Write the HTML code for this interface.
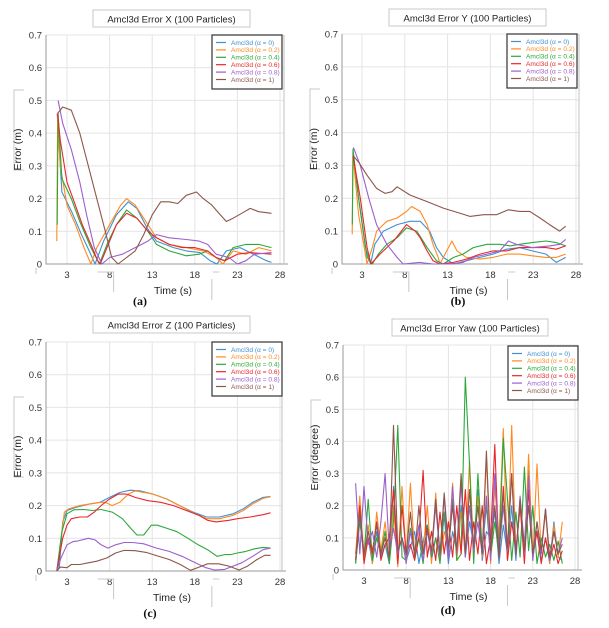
<!DOCTYPE html>
<html><head><meta charset="utf-8"><style>
html,body{margin:0;padding:0;background:#fff;width:609px;height:628px;overflow:hidden}
svg{display:block;font-family:"Liberation Sans",Arial,sans-serif}
</style></head><body>
<svg id="fig" width="609" height="628" viewBox="0 0 609 628" xmlns="http://www.w3.org/2000/svg"></svg>
<script>
const seriesLabels = ["Amcl3d (α = 0)","Amcl3d (α = 0.2)","Amcl3d (α = 0.4)","Amcl3d (α = 0.6)","Amcl3d (α = 0.8)","Amcl3d (α = 1)"];
const seriesColors = ["#3f8fd2","#ff8a1f","#2ca83a","#e8262a","#9b5fcf","#8c564b"];
const xTicks = [3,8,13,18,23,28];
const yTicks = [0,0.1,0.2,0.3,0.4,0.5,0.6,0.7];
const yTickLabels = ["0","0.1","0.2","0.3","0.4","0.5","0.6","0.7"];

// Panel (a) Error X: [time, value]
const aBlue = [[1.85,0.46],[2.4,0.22],[3.55,0.16],[4.7,0.09],[5.6,0.04],[6.3,0],[7.3,0.07],[8.8,0.15],[10.2,0.19],[11.2,0.17],[12.4,0.11],[13.5,0.07],[15.5,0.05],[17,0.04],[18.6,0.035],[19.8,0.01],[20.6,0],[21.7,0.04],[23.3,0.05],[24.9,0.03],[26.4,0.01],[27,0.005]];
const aOrange = [[1.8,0.07],[1.9,0.45],[2.2,0.3],[3,0.18],[4,0.12],[5,0.05],[5.8,0],[6.5,0.05],[8,0.12],[9.3,0.18],[10,0.2],[11,0.18],[12.5,0.12],[13.5,0.08],[15,0.06],[17,0.05],[19,0.04],[20.5,0.02],[21.3,0],[22.5,0.04],[24,0.03],[25.5,0.05],[27,0.04]];
const aGreen = [[1.85,0.12],[1.95,0.46],[2.4,0.26],[3.5,0.2],[4.5,0.13],[5.8,0.05],[6.8,0],[7.7,0.06],[8.8,0.12],[10,0.165],[11.2,0.14],[12.5,0.1],[13.5,0.06],[15,0.04],[17,0.025],[18.5,0.03],[19.5,0.04],[20.5,0.02],[21.5,0.01],[22.5,0.05],[24,0.06],[25.5,0.06],[27,0.05]];
const aRed = [[1.9,0.46],[2.2,0.38],[3,0.25],[3.7,0.2],[4.8,0.12],[5.8,0.06],[6.6,0.01],[6.9,0],[7.7,0.05],[8.8,0.12],[10,0.155],[11.2,0.14],[12.5,0.1],[13.5,0.08],[15,0.06],[16.5,0.05],[18,0.05],[19.5,0.04],[20.5,0.02],[21.5,0.01],[23,0.03],[24.5,0.035],[27,0.03]];
const aPurple = [[1.95,0.5],[2.5,0.43],[3.5,0.35],[4.5,0.25],[5.3,0.15],[6.2,0.05],[7.1,0],[8,0.02],[9.5,0.03],[11,0.05],[12.5,0.07],[13.5,0.09],[15,0.08],[17,0.075],[18.5,0.07],[19.5,0.06],[20.5,0.03],[22,0.02],[23,0],[24,0.01],[25,0.03],[27,0.035]];
const aBrown = [[1.9,0.46],[2.5,0.48],[3.5,0.47],[4.5,0.4],[5.5,0.3],[6.5,0.2],[7.5,0.1],[8.25,0.02],[9,0],[10,0.02],[11,0.04],[12,0.09],[13,0.15],[14,0.19],[15,0.19],[16,0.185],[17,0.21],[18.2,0.22],[19,0.2],[20,0.18],[21,0.15],[21.7,0.13],[22.5,0.14],[23.5,0.155],[24.5,0.17],[25.5,0.16],[27,0.155]];

// Panel (b) Error Y
const bBlue = [[1.95,0.34],[2.6,0.2],[3.4,0.05],[4.0,0],[4.5,0.06],[5.5,0.1],[7.1,0.12],[8.6,0.13],[9.8,0.13],[10.9,0.1],[11.7,0.05],[12.5,0.02],[13.7,0],[15.2,0.01],[16.8,0.02],[18.3,0.03],[19.9,0.045],[21.4,0.05],[22.9,0.04],[24.5,0.03],[25.7,0.005],[26.8,0.02]];
const bOrange = [[1.85,0.09],[1.95,0.33],[2.6,0.15],[3.6,0],[4.2,0.05],[4.7,0.1],[5.9,0.13],[7.1,0.14],[8.2,0.16],[8.8,0.175],[9.8,0.16],[10.6,0.12],[11.3,0.06],[11.9,0.02],[12.1,0],[12.9,0.04],[13.5,0.07],[14.1,0.04],[15.2,0.02],[16.8,0.015],[18.3,0.02],[19.9,0.03],[21.4,0.03],[22.9,0.025],[24.5,0.02],[25.7,0.02],[26.8,0.03]];
const bGreen = [[1.87,0.12],[1.95,0.35],[2.6,0.2],[3.6,0.02],[4.2,0],[4.9,0.03],[5.9,0.06],[7.1,0.08],[8.2,0.11],[9.4,0.1],[10.6,0.05],[11.7,0.01],[12.5,0],[13.7,0.02],[14.8,0.03],[16,0.05],[17.6,0.06],[19.1,0.06],[20.3,0.055],[21.4,0.06],[22.9,0.065],[24.5,0.07],[25.7,0.065],[26.8,0.055]];
const bRed = [[1.95,0.33],[2.8,0.2],[3.6,0.05],[4.04,0],[5.1,0.03],[6.7,0.07],[8.2,0.12],[9.2,0.1],[9.8,0.08],[10.6,0.04],[11.3,0.01],[12.1,0],[13.7,0.005],[15.2,0.015],[16.8,0.03],[18.3,0.04],[19.9,0.04],[21.4,0.05],[22.9,0.05],[24.5,0.05],[25.7,0.045],[26.8,0.055]];
const bPurple = [[2.0,0.355],[2.8,0.3],[3.8,0.2],[4.7,0.12],[5.9,0.06],[7.1,0.02],[7.8,0],[9.7,0.005],[11.3,0],[13.3,0],[14.8,0.005],[16,0.02],[17.6,0.03],[19.1,0.04],[20.1,0.07],[21.0,0.06],[22.9,0.05],[24.9,0.055],[26.1,0.06],[26.8,0.075]];
const bBrown = [[1.95,0.33],[2.6,0.31],[3.6,0.27],[4.7,0.23],[5.7,0.215],[6.5,0.22],[7.1,0.235],[8.6,0.21],[10.6,0.19],[12.5,0.17],[14.4,0.155],[15.6,0.145],[17.2,0.15],[18.7,0.15],[20.1,0.165],[21.4,0.16],[22.6,0.16],[23.8,0.14],[24.9,0.12],[26.1,0.1],[26.8,0.115]];

// Panel (c) Error Z
const cBlue = [[1.8,0],[2.1,0.01],[2.5,0.15],[3,0.185],[4.1,0.195],[5.7,0.205],[6.9,0.21],[8,0.225],[9.2,0.24],[10.4,0.247],[11.6,0.245],[13.1,0.235],[14.7,0.22],[16.2,0.2],[17.8,0.18],[19.4,0.165],[20.9,0.165],[22.5,0.175],[23.7,0.19],[24.8,0.21],[26,0.225],[26.9,0.228]];
const cOrange = [[1.8,0],[2.2,0.08],[2.7,0.18],[3.2,0.19],[4.5,0.2],[5.7,0.205],[6.9,0.21],[7.45,0.21],[8.3,0.2],[9.2,0.21],[10.2,0.235],[11,0.245],[13.1,0.235],[14.7,0.22],[16.2,0.2],[17.8,0.178],[19.4,0.16],[20.9,0.16],[22.5,0.17],[23.7,0.185],[24.8,0.205],[26,0.222],[26.9,0.227]];
const cGreen = [[1.8,0],[2.4,0.12],[3,0.175],[3.8,0.187],[5,0.188],[6,0.185],[7,0.188],[8.3,0.18],[9.5,0.16],[10.5,0.13],[11.2,0.11],[12,0.11],[12.9,0.14],[13.6,0.14],[14.8,0.13],[15.9,0.12],[17.2,0.1],[18.4,0.08],[19.5,0.065],[20.6,0.045],[21.5,0.05],[22.2,0.05],[23,0.055],[24,0.06],[25,0.068],[26,0.072],[26.9,0.07]];
const cRed = [[1.8,0],[2.5,0.1],[3,0.14],[3.5,0.16],[4.5,0.165],[5.4,0.165],[6.2,0.18],[7,0.2],[8,0.22],[9,0.235],[10,0.235],[11,0.225],[12.5,0.215],[14,0.21],[15.5,0.2],[17,0.185],[18.5,0.17],[19.5,0.155],[20.5,0.15],[22,0.155],[23,0.16],[24.5,0.165],[26,0.172],[26.9,0.178]];
const cPurple = [[1.8,0],[2.3,0.04],[3,0.08],[3.7,0.09],[4.3,0.092],[5.5,0.1],[6.3,0.095],[7,0.08],[7.8,0.07],[8.7,0.08],[9.7,0.087],[10.7,0.087],[12,0.083],[13.5,0.07],[15,0.06],[16.5,0.045],[17.7,0.03],[19.3,0.01],[20.3,0.003],[21.5,0.005],[22.5,0.015],[23.5,0.025],[24.8,0.045],[26,0.065],[26.9,0.07]];
const cBrown = [[1.8,0],[2.2,0.012],[3,0.01],[3.5,0.02],[4.5,0.02],[5.5,0.025],[6.5,0.03],[7.7,0.04],[8.7,0.055],[9.7,0.063],[11,0.062],[12.3,0.057],[13.5,0.047],[15,0.035],[16.3,0.02],[17.5,0.002],[18.5,0.012],[19.5,0.022],[20.8,0.022],[22,0.015],[23.2,0.003],[24.2,0.015],[25.3,0.035],[26.2,0.048],[26.9,0.048]];

// Panel (d) Error Yaw: values sampled every 0.5 s starting at yawStart
const yawStart = 2.0;
const yawStep = 0.5;
const dBlue = [0.02,0.15,0.05,0.1,0.02,0.12,0.04,0.08,0.02,0.26,0.05,0.1,0.03,0.07,0.12,0.02,0.09,0.14,0.03,0.1,0.05,0.17,0.02,0.12,0.06,0.2,0.04,0.15,0.08,0.25,0.03,0.12,0.1,0.18,0.02,0.14,0.05,0.2,0.03,0.22,0.08,0.31,0.05,0.12,0.03,0.1,0.02,0.15,0.04,0.03];
const dOrange = [0.05,0.23,0.03,0.14,0.02,0.18,0.06,0.15,0.03,0.2,0.01,0.26,0.04,0.27,0.05,0.1,0.06,0.2,0.02,0.24,0.03,0.12,0.07,0.27,0.03,0.18,0.05,0.34,0.06,0.23,0.04,0.35,0.02,0.26,0.1,0.44,0.03,0.45,0.05,0.2,0.04,0.36,0.03,0.33,0.05,0.18,0.02,0.14,0.04,0.15];
const dGreen = [0.02,0.16,0.04,0.22,0.03,0.1,0.05,0.12,0.02,0.15,0.45,0.04,0.03,0.13,0.06,0.1,0.02,0.14,0.04,0.1,0.02,0.18,0.05,0.22,0.03,0.05,0.6,0.33,0.02,0.3,0.06,0.2,0.04,0.15,0.05,0.41,0.22,0.03,0.18,0.04,0.32,0.06,0.2,0.02,0.1,0.04,0.08,0.03,0.09,0.02];
const dRed = [0.03,0.2,0.02,0.1,0.05,0.15,0.03,0.08,0.1,0.25,0.02,0.2,0.05,0.08,0.03,0.1,0.31,0.04,0.12,0.03,0.18,0.05,0.15,0.04,0.2,0.05,0.25,0.03,0.15,0.05,0.2,0.02,0.1,0.39,0.04,0.26,0.03,0.15,0.06,0.2,0.02,0.25,0.04,0.12,0.02,0.1,0.03,0.08,0.02,0.06];
const dPurple = [0.27,0.05,0.26,0.08,0.12,0.04,0.15,0.3,0.06,0.13,0.05,0.1,0.02,0.12,0.05,0.14,0.03,0.12,0.05,0.2,0.04,0.23,0.03,0.26,0.05,0.27,0.04,0.2,0.06,0.15,0.05,0.23,0.03,0.3,0.05,0.2,0.06,0.3,0.04,0.23,0.05,0.29,0.03,0.15,0.05,0.19,0.03,0.12,0.05,0.1];
const dBrown = [0.03,0.18,0.05,0.12,0.06,0.14,0.05,0.1,0.04,0.45,0.06,0.1,0.05,0.18,0.04,0.2,0.05,0.13,0.06,0.22,0.05,0.24,0.07,0.2,0.06,0.3,0.05,0.25,0.07,0.2,0.05,0.37,0.06,0.2,0.05,0.24,0.07,0.3,0.05,0.22,0.06,0.2,0.05,0.15,0.06,0.19,0.04,0.12,0.05,0.08];

const NS = "http://www.w3.org/2000/svg";
const svg = document.getElementById('fig');
function mk(tag, attrs, parent){const e=document.createElementNS(NS,tag);for(const k in attrs)e.setAttribute(k,attrs[k]);(parent||svg).appendChild(e);return e;}

function yawPairs(vals){return vals.map((v,i)=>[yawStart+i*yawStep,v]);}

const panels = [
 {key:"a",title:"Amcl3d Error X (100 Particles)",ylab:"Error (m)",L:46,R:284,T:35,B:264,t3:67,t28:280,tb:[93,10,157,17],lg:[212,35],sub:[140,305],series:[aBlue,aOrange,aGreen,aRed,aPurple,aBrown]},
 {key:"b",title:"Amcl3d Error Y (100 Particles)",ylab:"Error (m)",L:342,R:579,T:34,B:264,t3:362,t28:576,tb:[389,9,157,17],lg:[507,34],sub:[458,305],series:[bBlue,bOrange,bGreen,bRed,bPurple,bBrown]},
 {key:"c",title:"Amcl3d Error Z (100 Particles)",ylab:"Error (m)",L:46,R:282,T:342,B:571,t3:67,t28:280,tb:[93,316,157,17],lg:[212,342],sub:[150,617],series:[cBlue,cOrange,cGreen,cRed,cPurple,cBrown]},
 {key:"d",title:"Amcl3d Error Yaw (100 Particles)",ylab:"Error (degree)",L:343,R:578,T:345,B:570,t3:364,t28:575,tb:[392,319,156,17],lg:[508,346],sub:[448,614],series:[yawPairs(dBlue),yawPairs(dOrange),yawPairs(dGreen),yawPairs(dRed),yawPairs(dPurple),yawPairs(dBrown)]}
];

panels.forEach(p=>{
  const g = mk('g',{});
  
  
  const xs = t => p.t3 + (t-3)*(p.t28-p.t3)/25;
  const ys = v => p.B - v*(p.B-p.T)/0.7;
  // title box
  const tbg = mk('g',{},g);
  
  
  mk('rect',{x:p.tb[0],y:p.tb[1],width:p.tb[2],height:p.tb[3],fill:'#fff',stroke:'#c8c8c8','stroke-width':1},tbg);
  const tt = mk('text',{x:p.tb[0]+p.tb[2]/2,y:p.tb[1]+12.5,'text-anchor':'middle','font-size':9.5,fill:'#222'},tbg);
  tt.textContent = p.title;
  // grid
  yTicks.forEach((v,i)=>{
    const gl = mk('line',{x1:p.L,x2:p.R,y1:ys(v),y2:ys(v),stroke:'#e4e4e4','stroke-width':1},g);
    
    
    const tl = mk('text',{x:p.L-4,y:ys(v)+3.5,'text-anchor':'end','font-size':9.5,fill:'#333'},g);
    
    
    tl.textContent = yTickLabels[i];
  });
  xTicks.forEach(t=>{
    const gl = mk('line',{x1:xs(t),x2:xs(t),y1:p.T,y2:p.B,stroke:'#e4e4e4','stroke-width':1},g);
    
    
    const tl = mk('text',{x:xs(t),y:p.B+14,'text-anchor':'middle','font-size':9.5,fill:'#333'},g);
    
    
    tl.textContent = t;
  });
  // axes
  const ax = mk('path',{d:`M${p.L},${p.T} V${p.B} H${p.R+4}`,fill:'none',stroke:'#9a9a9a','stroke-width':1},g);
  
  
  mk('line',{x1:p.R,x2:p.R,y1:p.T,y2:p.B,stroke:'#c0c0c0','stroke-width':1},g);
  // decorative bracket lines
  mk('path',{d:`M${p.L-22},${p.T+55} H${p.L-32} V${p.T+135} H${p.L-22} M${p.L-10},${p.B+4} V${p.B+10} M${xs(8)-12},${p.B+8} H${xs(8)+4} V${p.B+28} M${xs(18)+18},${p.B+8} H${xs(23)-18} M${xs(20)},${p.B+15} V${p.B+36}`,fill:'none',stroke:'#c8c8c8','stroke-width':1},g);
  // axis titles
  const xt = mk('text',{x:(p.L+p.R)/2+8,y:p.B+30,'text-anchor':'middle','font-size':10.5,fill:'#222'},g);
  
  
  xt.textContent = 'Time (s)';
  const yt = mk('text',{x:0,y:0,'text-anchor':'middle','font-size':10.5,fill:'#222',transform:`translate(${p.L-25},${(p.T+p.B)/2}) rotate(-90)`},g);
  
  
  yt.textContent = p.ylab;
  // series
  p.series.forEach((s,i)=>{
    const pl = mk('polyline',{points:s.map(d=>xs(d[0]).toFixed(1)+','+ys(d[1]).toFixed(1)).join(' '),fill:'none',stroke:seriesColors[i],'stroke-width':1.1,'stroke-linejoin':'round'},g);
    
    
  });
  // legend
  const lg = mk('g',{},g);
  
  
  mk('rect',{x:p.lg[0],y:p.lg[1],width:70,height:54,fill:'#fff',stroke:'#333','stroke-width':1.2},lg);
  seriesLabels.forEach((lab,i)=>{
    const y = p.lg[1]+7.5+i*7.4;
    const e = mk('g',{},lg);
    
    
    mk('line',{x1:p.lg[0]+4,x2:p.lg[0]+14,y1:y,y2:y,stroke:seriesColors[i],'stroke-width':1.2},e);
    const tx = mk('text',{x:p.lg[0]+19,y:y+2.3,'font-size':6.6,fill:seriesColors[i]},e);
    tx.textContent = lab;
  });
  // sub label
  const sl = mk('text',{x:p.sub[0],y:p.sub[1],'text-anchor':'middle','font-size':12,'font-weight':'bold','font-family':'Liberation Serif, serif',fill:'#111'},g);
  
  
  sl.textContent = '('+p.key+')';
});
</script>
</body></html>
